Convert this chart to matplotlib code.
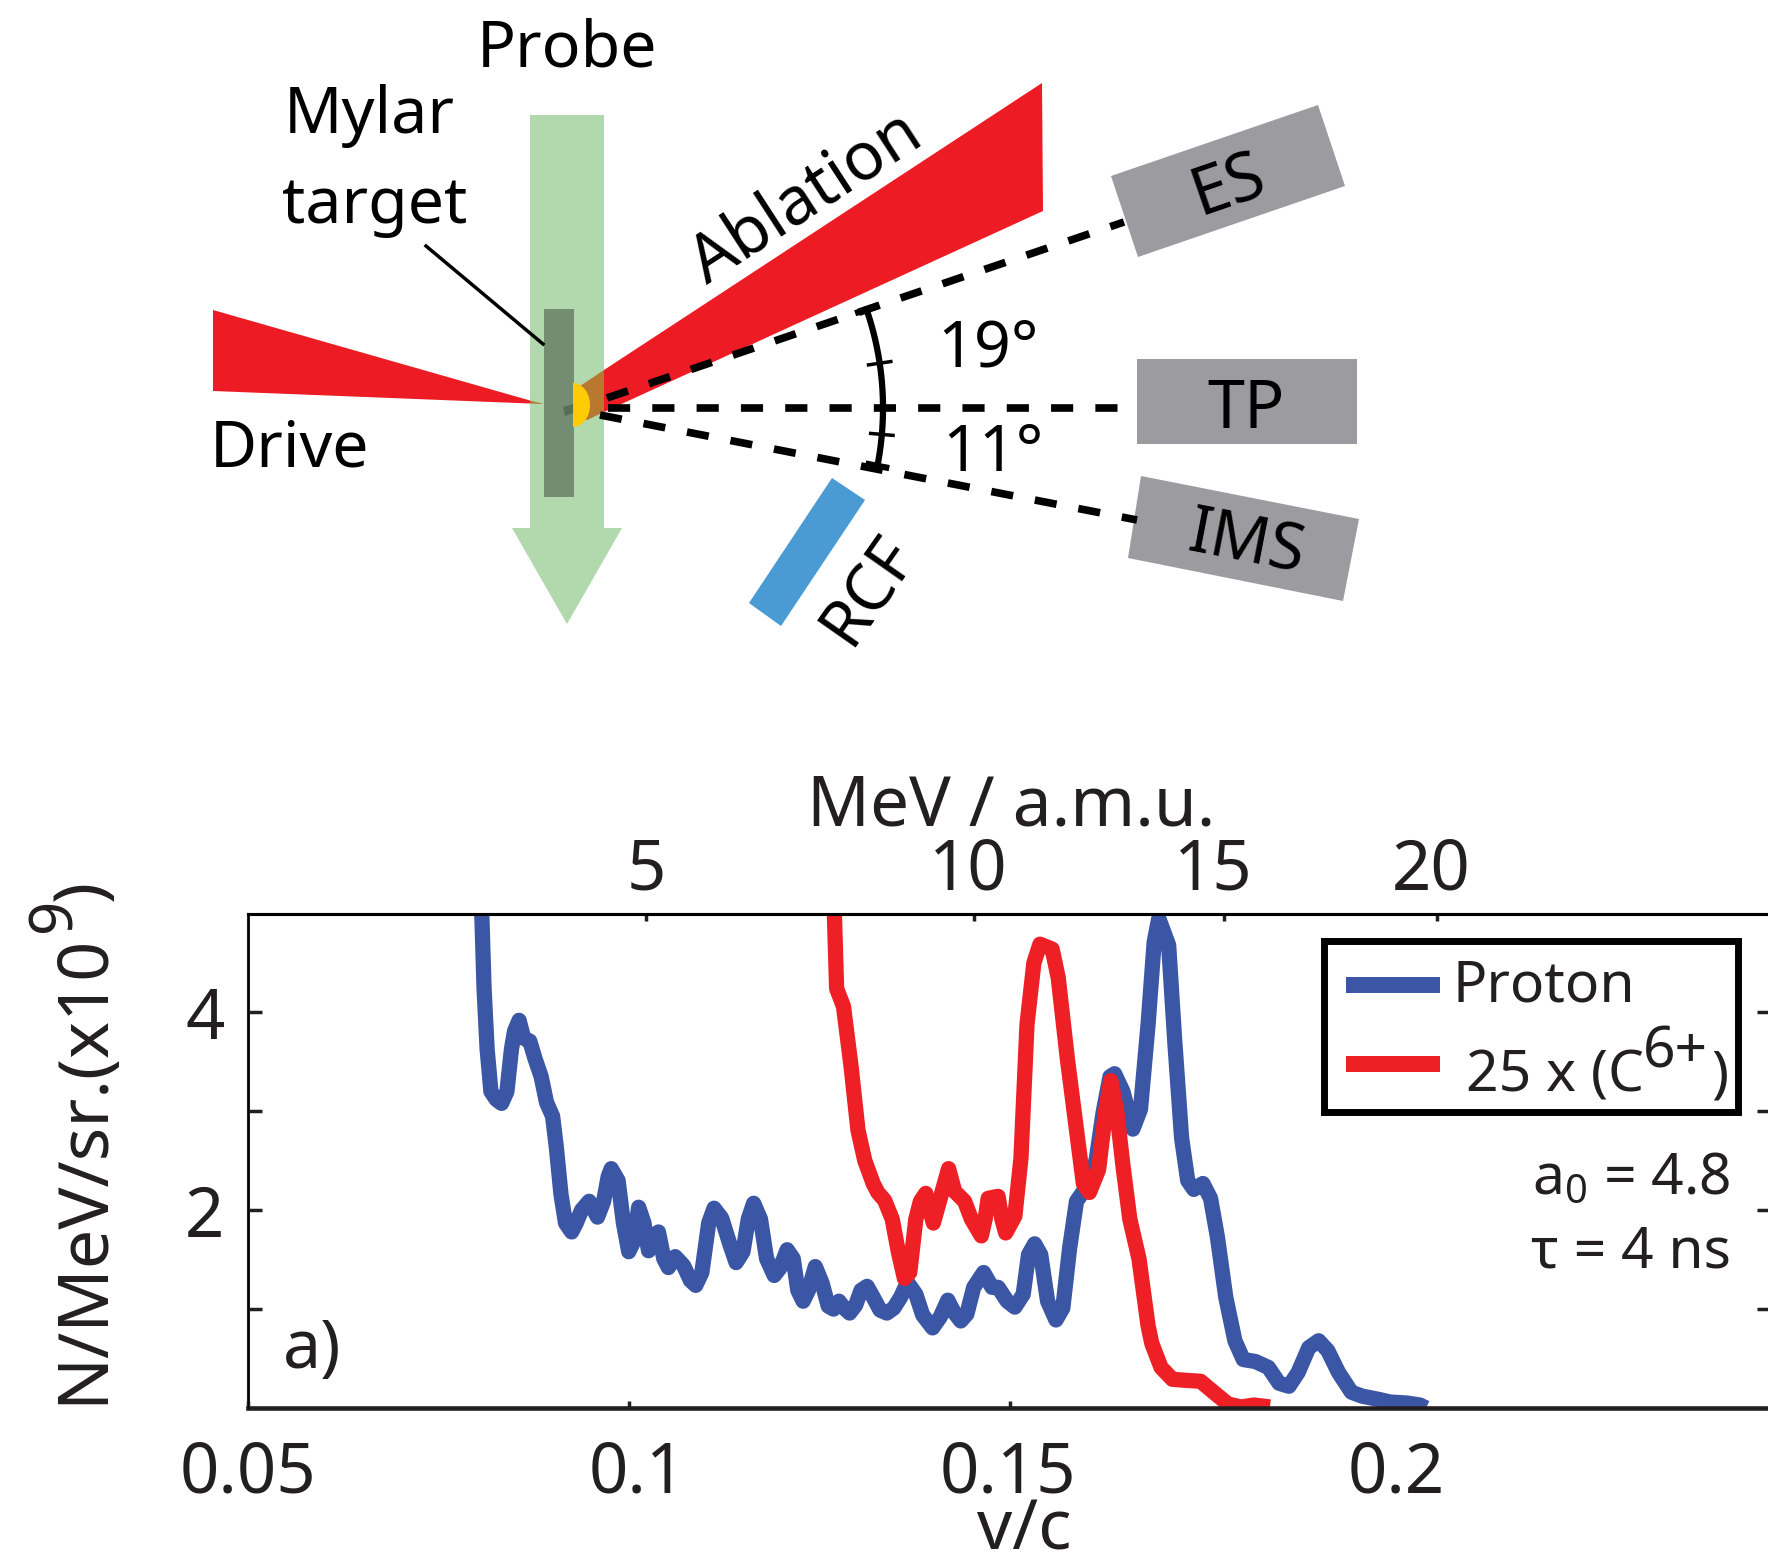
"""Laser-ion setup schematic and proton / carbon spectra."""

import numpy as np
import matplotlib

matplotlib.use("Agg")
import matplotlib.pyplot as plt
from matplotlib.patches import Polygon, Rectangle
from matplotlib.transforms import ScaledTranslation

plt.rcParams["font.family"] = ["Noto Sans", "DejaVu Sans"]
plt.rcParams["mathtext.default"] = "regular"

W, H = 1768, 1559
INK = "#231F20"

# spectra
proton_vc = [
    .0807, .0810, .0814, .0819, .0826, .0833, .0840, .0846, .0850, .0856, .0862, .0870, .0877, .0885,
    .0892, .0900, .0905, .0911, .0917, .0925, .0931, .0938, .0948, .0959, .0967, .0973, .0977, .0986,
    .0993, .1000, .1007, .1013, .1020, .1026, .1031, .1039, .1046, .1052, .1061, .1072, .1081, .1088,
    .1096, .1105, .1112, .1122, .1133, .1141, .1150, .1157, .1164, .1173, .1181, .1191, .1199, .1208,
    .1216, .1222, .1229, .1236, .1245, .1254, .1262, .1269, .1276, .1283, .1290, .1298, .1305, .1313,
    .1321, .1330, .1339, .1348, .1357, .1366, .1377, .1386, .1399, .1409, .1419, .1427, .1436, .1444,
    .1453, .1466, .1477, .1485, .1497, .1507, .1518, .1525, .1533, .1541, .1550, .1561, .1570, .1579,
    .1588, .1597, .1605, .1614, .1623, .1632, .1638, .1649, .1662, .1672, .1682, .1690, .1696, .1709,
    .1717, .1726, .1734, .1742, .1754, .1764, .1773, .1784, .1796, .1807, .1823, .1840, .1854, .1867,
    .1879, .1893, .1906, .1918, .1932, .1949, .1963, .1983, .2000, .2022, .2039, .2047,
]
proton_counts = [
    5.00, 4.24, 3.63, 3.20, 3.12, 3.08, 3.20, 3.63, 3.81, 3.92, 3.74, 3.71, 3.53, 3.35,
    3.09, 2.95, 2.63, 2.16, 1.87, 1.78, 1.87, 2.00, 2.09, 1.93, 2.09, 2.34, 2.42, 2.30,
    1.87, 1.58, 1.69, 2.03, 1.87, 1.59, 1.73, 1.78, 1.51, 1.42, 1.53, 1.44, 1.29, 1.24,
    1.37, 1.87, 2.02, 1.92, 1.65, 1.47, 1.58, 1.91, 2.07, 1.91, 1.51, 1.34, 1.42, 1.60,
    1.51, 1.19, 1.08, 1.19, 1.43, 1.26, 1.03, 1.00, 1.08, 1.01, 0.96, 1.04, 1.19, 1.23,
    1.12, 0.99, 0.96, 1.01, 1.12, 1.27, 1.15, 0.94, 0.81, 0.92, 1.09, 0.97, 0.88, 0.95,
    1.22, 1.37, 1.22, 1.22, 1.08, 1.02, 1.15, 1.55, 1.66, 1.55, 1.08, 0.89, 1.01, 1.62,
    2.09, 2.19, 2.23, 2.52, 2.99, 3.35, 3.38, 3.20, 2.82, 3.02, 3.88, 4.71, 4.95, 4.68,
    3.71, 2.73, 2.30, 2.21, 2.27, 2.12, 1.73, 1.12, 0.68, 0.49, 0.47, 0.41, 0.25, 0.22,
    0.36, 0.61, 0.68, 0.58, 0.36, 0.16, 0.12, 0.09, 0.06, 0.05, 0.03, 0.00,
]
carbon_vc = [
    .1270, .1273, .1282, .1292, .1301, .1310, .1321, .1327, .1336, .1346, .1354, .1362, .1369, .1377,
    .1383, .1390, .1395, .1400, .1408, .1420, .1428, .1441, .1450, .1463, .1468, .1472, .1485, .1490,
    .1495, .1507, .1515, .1523, .1532, .1540, .1556, .1564, .1576, .1588, .1597, .1605, .1617, .1626,
    .1633, .1641, .1649, .1658, .1670, .1682, .1687, .1699, .1714, .1731, .1751, .1768, .1787, .1804,
    .1821, .1842,
]
carbon_counts = [
    5.00, 4.24, 4.06, 3.45, 2.81, 2.50, 2.27, 2.18, 2.10, 1.91, 1.58, 1.31, 1.37, 1.91,
    2.09, 2.17, 2.01, 1.87, 2.09, 2.42, 2.19, 2.09, 1.91, 1.74, 1.91, 2.12, 2.14, 1.91,
    1.77, 1.94, 2.52, 3.88, 4.50, 4.69, 4.64, 4.35, 3.53, 2.81, 2.27, 2.18, 2.41, 2.99,
    3.31, 2.99, 2.45, 1.91, 1.51, 0.83, 0.65, 0.41, 0.29, 0.28, 0.27, 0.16, 0.04, 0.01,
    0.03, 0.01,
]

vc_ticks = [0.05, 0.1, 0.15, 0.2]
vc_labels = ["0.05", "0.1", "0.15", "0.2"]
y_ticks = [1, 2, 3, 4]
y_labels = ["", "2", "", "4"]
mev_ticks_vc = [0.1023, 0.1453, 0.1782, 0.2062]
mev_labels = ["5", "10", "15", "20"]


def nudge_labels(axis, shifts):
    """Slide tick labels sideways by a few pixels, the original's sit off their ticks."""
    for label, dx in zip(axis.get_ticklabels(), shifts):
        offset = ScaledTranslation(dx / 100, 0, fig.dpi_scale_trans)
        label.set_transform(label.get_transform() + offset)


fig = plt.figure(figsize=(W / 100, H / 100), dpi=100)

# spectra panel, its right edge falls just off the canvas
ax = fig.add_axes([248 / W, 1 - 1408 / H, 1523 / W, 494.5 / H])
ax.plot(proton_vc, proton_counts, color="#3A56A5", lw=11, solid_joinstyle="round", solid_capstyle="butt")
ax.plot(carbon_vc, carbon_counts, color="#EE1F25", lw=11, solid_joinstyle="round", solid_capstyle="butt")
ax.set_xlim(0.05, 0.25)
ax.set_ylim(0, 5)
ax.set_xticks(vc_ticks, vc_labels, fontsize=49.5, color=INK)
ax.set_yticks(y_ticks, y_labels, fontsize=49.5, color=INK)
ax.tick_params(axis="x", direction="in", length=5, width=2.5, pad=23, color=INK)
ax.tick_params(axis="y", direction="in", length=10, width=2.5, pad=17, right=True, color=INK)
ax.set_xlabel("v/c", fontsize=50, color=INK, va="center")
ax.xaxis.set_label_coords(0.5095, -0.25)
for side, lw in [("top", 2.2), ("bottom", 3.3), ("left", 2.2), ("right", 2.2)]:
    ax.spines[side].set_linewidth(lw)
    ax.spines[side].set_color(INK)
nudge_labels(ax.xaxis, [0, 8, -2, 6])

top = ax.twiny()
top.set_xlim(ax.get_xlim())
top.set_xticks(mev_ticks_vc, mev_labels, fontsize=49.5, color=INK)
top.tick_params(axis="x", direction="in", length=5, width=2.5, pad=5, color=INK)
top.set_xlabel("MeV / a.m.u.", fontsize=50, color=INK, va="center")
top.xaxis.set_label_coords(0.501, 1.215)
top.spines["top"].set_linewidth(2.2)
top.spines["bottom"].set_visible(False)
nudge_labels(top.xaxis, [0, -6, -11, -6])

# overlay in canvas pixels for the schematic and the legend box
ov = fig.add_axes([0, 0, 1, 1])
ov.set_xlim(0, W)
ov.set_ylim(H, 0)
ov.axis("off")
ov.patch.set_alpha(0)

GREEN = "#B2D8AD"
RED = "#ED1C24"
BROWN = "#B87830"
GREY = "#9C9B9F"

ov.add_patch(Rectangle((530, 115), 74, 413, fc=GREEN, ec="none"))
ov.add_patch(Polygon([(512, 528), (622, 528), (567, 624)], fc=GREEN, ec="none"))
ov.add_patch(Rectangle((544, 309), 30, 188, fc="#738C72", ec="none"))
ov.add_patch(Polygon([(213, 310), (213, 391), (530, 403.5), (530, 400.5)], fc=RED, ec="none"))
ov.add_patch(Polygon([(530, 400.5), (544, 404), (530, 403.5)], fc=BROWN, ec="none"))
ov.add_patch(Polygon([(604, 370), (1042, 83), (1043, 211), (604, 412)], fc=RED, ec="none"))
ov.add_patch(Polygon([(574, 390), (604, 370), (604, 412), (587, 420), (574, 420)], fc=BROWN, ec="none"))
ov.add_patch(Polygon([(563, 407), (573, 404), (574, 413), (565, 416)], fc="#566F58", ec="none"))
theta = np.radians(np.linspace(-90, 90, 40))
ov.add_patch(Polygon(np.c_[573 + 17 * np.cos(theta), 405 + 22 * np.sin(theta)], fc="#FFCB05", ec="none"))

# lines of sight
dash = (0, (2.9, 2.9))
ov.plot([607, 1124], [398, 222], color="k", lw=5.5, ls=dash)
ov.plot([608, 1122], [408, 408], color="k", lw=5.5, ls=dash)
ov.plot([600, 1137], [415, 520], color="k", lw=5.5, ls=dash)

# angle bracket
cx, cy, r = 580, 408, 303
a = np.radians(np.linspace(-11, 19, 60))
ov.plot(cx + r * np.cos(a), cy - r * np.sin(a), color="k", lw=4.5)
for deg, half, lw in [(19, 12, 4.5), (-11, 12, 4.5), (8.5, 13, 2.5), (-5, 13, 2.5)]:
    t = np.radians(deg)
    rr = np.array([r - half, r + half])
    ov.plot(cx + rr * np.cos(t), cy - rr * np.sin(t), color="k", lw=lw, solid_capstyle="butt")

ov.plot([426, 543], [246, 344], color="k", lw=2.5)

ov.add_patch(Polygon([(1111, 176), (1318, 105), (1345, 186), (1138, 257)], fc=GREY, ec="none"))
ov.add_patch(Rectangle((1137, 359), 220, 85, fc=GREY, ec="none"))
ov.add_patch(Polygon([(1141, 476), (1359, 519), (1343, 601), (1128, 558)], fc=GREY, ec="none"))
ov.add_patch(Polygon([(832, 478), (865, 500), (781, 626), (749, 603)], fc="#4A9AD4", ec="none"))

labels = [
    ("Probe", 567, 49, 0, 46.5),
    ("Mylar", 369, 116, 0, 46.5),
    ("target", 375, 206, 0, 46.5),
    ("Drive", 290, 449, 0, 46.5),
    ("Ablation", 806, 198, 33, 48),
    ("ES", 1228, 186, 19, 48),
    ("TP", 1246, 410, 0, 48),
    ("IMS", 1246, 545, -11, 47),
    ("RCF", 870, 590, 55, 47),
    ("19°", 988, 349, 0, 46.5),
    ("11°", 993, 454, 0, 46.5),
]
for text, x, y, rot, size in labels:
    ov.text(x, y, text, fontsize=size, color="k", ha="center", va="center", rotation=rot, rotation_mode="anchor")

# y label pieces, the exponent is nearly full size in the original
ylab = dict(color=INK, ha="left", va="baseline", rotation=90, rotation_mode="anchor")
ov.text(102, 1404, "N/MeV/sr.(x10", fontsize=50.5, **ylab)
ov.text(70, 932, "9", fontsize=43, **ylab)
ov.text(102, 901, ")", fontsize=50.5, **ylab)

# legend box and notes
ov.add_patch(Rectangle((1324, 941), 414, 171, fc="white", ec="k", lw=5))
ov.plot([1346, 1440], [985, 985], color="#3A56A5", lw=11.5, solid_capstyle="butt")
ov.plot([1346, 1440], [1064, 1064], color="#EE1F25", lw=11.5, solid_capstyle="butt")
ov.text(1453, 1001, "Proton", fontsize=41, color=INK, ha="left", va="baseline")
ov.text(1466, 1092, "25 x (C", fontsize=41, color=INK, ha="left", va="baseline")
ov.text(1643, 1067, "6+", fontsize=41, color=INK, ha="left", va="baseline")
ov.text(1711, 1092, ")", fontsize=41, color=INK, ha="left", va="baseline")
ov.text(1532, 1194, "a$_{0}$ = 4.8", fontsize=41, color=INK, ha="left", va="baseline")
ov.text(1531, 1267, "τ = 4 ns", fontsize=41, color=INK, ha="left", va="baseline")
ov.text(312, 1350, "a)", fontsize=49, color=INK, ha="center", va="center")

fig.savefig("out.png", dpi=100)
